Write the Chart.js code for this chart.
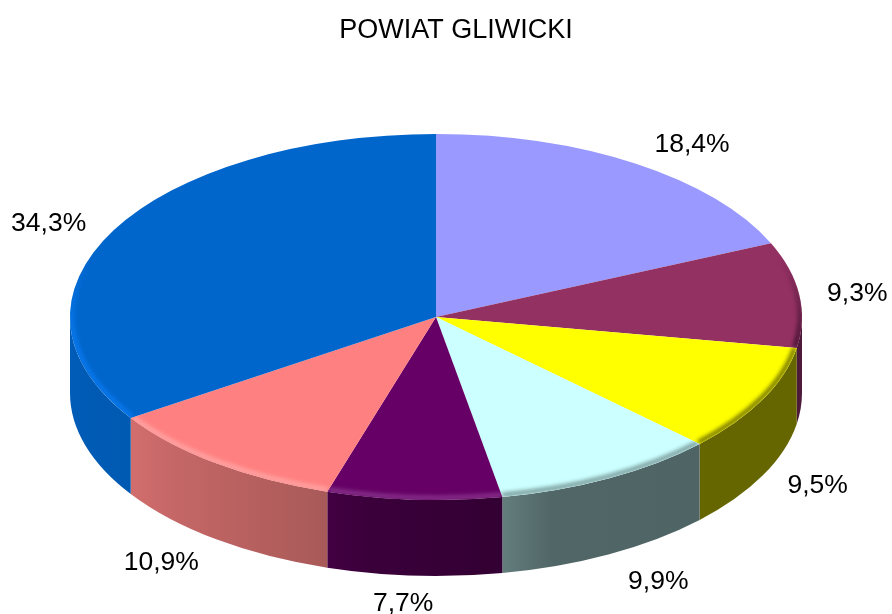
<!DOCTYPE html>
<html>
<head>
<meta charset="utf-8">
<title>POWIAT GLIWICKI</title>
<script src="https://cdn.jsdelivr.net/npm/chart.js@4/dist/chart.umd.min.js"></script>
<style>
html, body { margin: 0; padding: 0; background: #fff; overflow: hidden; }
canvas { display: block; }
</style>
</head>
<body>
<canvas id="pie" width="892" height="614"></canvas>
<script>
var titleText = 'POWIAT GLIWICKI';
var categories = ['A', 'B', 'C', 'D', 'E', 'F', 'G'];
var values = [18.4, 9.3, 9.5, 9.9, 7.7, 10.9, 34.3];

var faceColors = ['#9999ff', '#933162', '#ffff00', '#ccffff', '#660066', '#ff8080', '#0066cc'];
var wallLeft = ['#5c5c99', '#4d1a3a', '#666600', '#637d7d', '#420042', '#d26d6d', '#005cb8'];
var wallMid = ['#5c5c99', '#4d1a3a', '#666600', '#516667', '#3a003a', '#c46666', '#005bb5'];
var wallRight = ['#5c5c99', '#4d1a3a', '#666600', '#4f6465', '#330033', '#a85a58', '#005ab2'];
var rimColors = ['#7777cc', '#3e1030', '#5c5c00', '#6a8888', '#8c3a90', '#ffaaaa', '#0a7cf5'];

// offset of each label from the middle of its slice rim
var labelDx = [56, 58, 55, 49, -11, -55, -65];
var labelDy = [-19, -1, 86, 103, 104, 99, -7];

// ellipse of the top face, and thickness of the pie
var centerX = 436, centerY = 317, radiusX = 366, radiusY = 183, depth = 76;

function formatValue(v) {
    return v.toFixed(1).replace('.', ',') + '%';
}

function wallPath(ctx, a0, a1) {
    ctx.beginPath();
    ctx.ellipse(centerX, centerY, radiusX, radiusY, 0, a0, a1);
    ctx.ellipse(centerX, centerY + depth, radiusX, radiusY, 0, a1, a0, true);
    ctx.closePath();
}

// start angle of a slice brought into -PI..PI, so a slice can cross 0
function norm(a) {
    var t = Math.PI * 2;
    var n = ((a % t) + t) % t;
    return n > Math.PI ? n - t : n;
}

var pie3d = {
    id: 'pie3d',
    beforeDatasetsDraw: function (chart) {
        var ctx = chart.ctx;
        var arcs = chart.getDatasetMeta(0).data;

        // side walls, only the front half of the pie shows them
        arcs.forEach(function (arc, i) {
            var start = norm(arc.startAngle);
            var a0 = Math.max(start, 0);
            var a1 = Math.min(start + (arc.endAngle - arc.startAngle), Math.PI);
            if (a1 <= a0) return;
            var x0 = centerX + radiusX * Math.cos(a1);
            var x1 = centerX + radiusX * Math.cos(a0);
            var grad = ctx.createLinearGradient(x0, 0, x1, 0);
            grad.addColorStop(0, wallLeft[i]);
            grad.addColorStop(0.25, wallMid[i]);
            grad.addColorStop(1, wallRight[i]);
            ctx.fillStyle = grad;
            wallPath(ctx, a0, a1);
            ctx.fill();
        });

        // squash the round pie into the top face
        var first = arcs[0];
        ctx.save();
        ctx.translate(centerX, centerY);
        ctx.scale(radiusX / first.outerRadius, radiusY / first.outerRadius);
        ctx.translate(-first.x, -first.y);
    },
    afterDatasetsDraw: function (chart) {
        var ctx = chart.ctx;
        var arcs = chart.getDatasetMeta(0).data;
        ctx.restore();

        // soft bevel along the rim of each slice
        arcs.forEach(function (arc, i) {
            ctx.save();
            ctx.beginPath();
            ctx.moveTo(centerX, centerY);
            ctx.ellipse(centerX, centerY, radiusX, radiusY, 0, arc.startAngle, arc.endAngle);
            ctx.closePath();
            ctx.clip();
            var grad = ctx.createLinearGradient(0, centerY - 60, 0, centerY + 20);
            grad.addColorStop(0, rimColors[i] + '00');
            grad.addColorStop(1, rimColors[i]);
            ctx.strokeStyle = grad;
            ctx.lineWidth = 4;
            ctx.filter = 'blur(2px)';
            ctx.beginPath();
            ctx.ellipse(centerX, centerY, radiusX - 2, radiusY - 2, 0, arc.startAngle, arc.endAngle);
            ctx.stroke();
            ctx.restore();
        });

        // percent labels
        ctx.save();
        ctx.font = '26.5px "Liberation Sans", Arial, sans-serif';
        ctx.fillStyle = '#000';
        ctx.textAlign = 'center';
        ctx.textBaseline = 'middle';
        arcs.forEach(function (arc, i) {
            var mid = (arc.startAngle + arc.endAngle) / 2;
            var x = centerX + radiusX * Math.cos(mid) + labelDx[i];
            var y = centerY + radiusY * Math.sin(mid) + labelDy[i];
            ctx.fillText(formatValue(values[i]), x, y);
        });
        ctx.restore();
    }
};

new Chart(document.getElementById('pie').getContext('2d'), {
    type: 'pie',
    data: {
        labels: categories,
        datasets: [{
            data: values,
            backgroundColor: faceColors,
            borderWidth: 0,
            clip: false
        }]
    },
    options: {
        responsive: false,
        animation: false,
        layout: { padding: { left: 20 } },
        plugins: {
            legend: { display: false },
            tooltip: { enabled: false },
            title: {
                display: true,
                text: titleText,
                color: '#000',
                font: { family: '"Liberation Sans", Arial, sans-serif', size: 27, weight: 'normal' },
                padding: { top: 14, bottom: 10 }
            }
        }
    },
    plugins: [pie3d]
});
</script>
</body>
</html>
